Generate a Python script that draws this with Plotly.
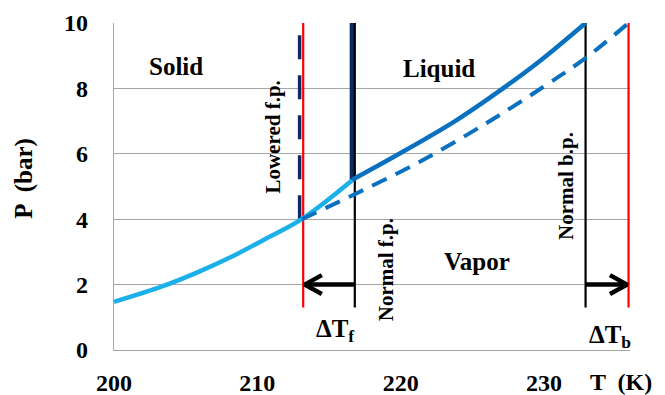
import plotly.graph_objects as go

# ---- data ----
sub_T = [200, 203.4, 205.9, 208.2, 210.5, 213.1, 216.6]
sub_P = [1.47, 1.95, 2.39, 2.85, 3.38, 4.0, 5.18]

liq_T = [216.6, 219.9, 223.8, 226.5, 229.6, 232.9]
liq_P = [5.2, 6.0, 7.0, 7.8, 8.8, 10.0]

sol_T = [213.1, 216.4, 221.3, 226.4, 231.0, 233.0, 235.9]
sol_P = [4.0, 4.68, 5.75, 7.05, 8.35, 8.96, 10.0]

fp_normal = 216.8
fp_lowered = 213.2
bp_normal = 232.9
bp_raised = 235.9
melt_normal_T = 216.6
melt_lowered_T = 212.95
triple_P = 5.2
lowered_triple_P = 4.0
marker_bottom = 1.3
P_top = 10
arrow_P = 2.0

x_ticks = [200, 210, 220, 230]
y_ticks = [0, 2, 4, 6, 8, 10]

FONT = "Liberation Serif, Times New Roman, serif"
LIGHT = "#1CB0EA"
MID = "#0A70C0"
NAVY = "#0C2A66"

fig = go.Figure()

def vline(x, y0, y1, color, width, dash="solid"):
    fig.add_trace(go.Scatter(x=[x, x], y=[y0, y1], mode="lines",
                             line=dict(color=color, width=width, dash=dash),
                             showlegend=False, hoverinfo="skip", cliponaxis=False))

# melting lines
vline(melt_normal_T, triple_P, P_top, NAVY, 4.5)
vline(melt_lowered_T, lowered_triple_P, P_top, NAVY, 3.5, dash="24px,16px")

# temperature markers
vline(fp_lowered, marker_bottom, P_top, "#FF0000", 2.2)
vline(bp_raised, marker_bottom, P_top, "#FF0000", 2.2)
vline(fp_normal, marker_bottom, P_top, "#000000", 2.2)
vline(bp_normal, marker_bottom, P_top, "#000000", 2.2)

# curves
fig.add_trace(go.Scatter(x=sub_T, y=sub_P, mode="lines", line=dict(color=LIGHT, width=4.5, shape="spline", smoothing=1),
                         showlegend=False, hoverinfo="skip"))
fig.add_trace(go.Scatter(x=liq_T, y=liq_P, mode="lines", line=dict(color=MID, width=4.5, shape="spline", smoothing=1),
                         showlegend=False, hoverinfo="skip"))
fig.add_trace(go.Scatter(x=sol_T, y=sol_P, mode="lines", line=dict(color=MID, width=4, shape="spline", smoothing=1, dash="16px,10px"),
                         showlegend=False, hoverinfo="skip", cliponaxis=False))

# arrows
head_dx = 1.2
head_dy = 0.29
def arrow(x_from, x_to):
    d = 1 if x_to > x_from else -1
    tip = x_to - d * 0.1
    fig.add_trace(go.Scatter(x=[x_from, tip], y=[arrow_P, arrow_P], mode="lines",
                             line=dict(color="black", width=4.5), showlegend=False, hoverinfo="skip", cliponaxis=False))
    fig.add_trace(go.Scatter(x=[tip - d * head_dx, tip, tip - d * head_dx],
                             y=[arrow_P + head_dy, arrow_P, arrow_P - head_dy], mode="lines",
                             line=dict(color="black", width=4.5), showlegend=False, hoverinfo="skip", cliponaxis=False))

arrow(fp_normal, fp_lowered)
arrow(bp_normal, bp_raised)

def label(text, x, y, size, angle=0, xref="x", yref="y"):
    fig.add_annotation(text=text, x=x, y=y, xref=xref, yref=yref, showarrow=False,
                       textangle=angle, font=dict(family=FONT, size=size, color="black"),
                       xanchor="center", yanchor="middle")

label("<b>Solid</b>", 204.3, 8.68, 25)
label("<b>Liquid</b>", 222.7, 8.62, 25)
label("<b>Vapor</b>", 225.3, 2.72, 25)
label("<b>Lowered f.p.</b>", 211.1, 6.5, 21, angle=-90)
label("<b>Normal f.p.</b>", 219.0, 2.45, 21, angle=-90)
label("<b>Normal b.p.</b>", 231.5, 5.0, 21, angle=-90)
label("<b>Raised b.p.</b>", 237.7, 5.02, 21, angle=-90)
label("<b>ΔT<sub>f</sub></b>", 215.4, 0.6, 25)
label("<b>ΔT<sub>b</sub></b>", 234.6, 0.4, 25)
label("<b>P  (bar)</b>", -0.175, 5.26, 25, angle=-90, xref="paper")
label("<b>T  (K)</b>", 235.4, -0.098, 24, yref="paper")

fig.update_layout(
    width=665, height=395,
    margin=dict(l=114, r=35, t=23, b=45, autoexpand=False),
    paper_bgcolor="white", plot_bgcolor="white",
    font=dict(family=FONT, color="black"),
    showlegend=False,
)
fig.update_xaxes(range=[200, 236], tickvals=x_ticks, ticktext=[f"<b>{v}</b>" for v in x_ticks],
                 showgrid=False, zeroline=False, showline=True, linecolor="#A6A6A6", linewidth=1.2,
                 tickfont=dict(family=FONT, size=24, color="black"), ticks="", ticklabelstandoff=11,
                 automargin=False)
fig.update_yaxes(range=[0, 10], tickvals=y_ticks, ticktext=[f"<b>{v}</b>" for v in y_ticks],
                 showgrid=True, gridcolor="#A6A6A6", gridwidth=1.2, zeroline=False,
                 showline=True, linecolor="#A6A6A6", linewidth=1.2,
                 tickfont=dict(family=FONT, size=24, color="black"), ticks="", ticklabelstandoff=20,
                 automargin=False)

fig.write_html("out.html")
